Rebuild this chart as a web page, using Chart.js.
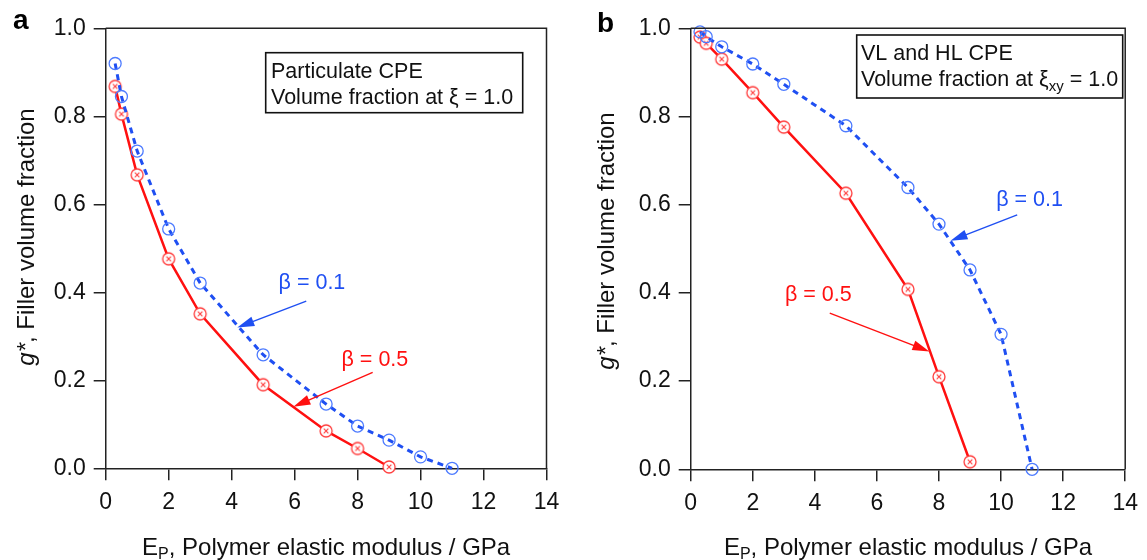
<!DOCTYPE html>
<html>
<head>
<meta charset="utf-8">
<script src="https://cdn.jsdelivr.net/npm/chart.js@4.4.1/dist/chart.umd.min.js"></script>
<style>
html, body { margin: 0; padding: 0; background: #fff; }
canvas { position: absolute; top: 0; }
#chart-a { left: 0; }
#chart-b { left: 580px; }
</style>
</head>
<body>
<canvas id="chart-a" width="580" height="560"></canvas>
<canvas id="chart-b" width="567" height="560"></canvas>
<script>
// polymer elastic modulus (GPa) at which each point was computed
const modulusBeta01 = [0.3, 0.5, 1, 2, 3, 5, 7, 8, 9, 10, 11];
const modulusBeta05 = [0.3, 0.5, 1, 2, 3, 5, 7, 8, 9];

// panel a: particulate CPE
const particulateBeta01 = [0.92, 0.845, 0.721, 0.544, 0.421, 0.258, 0.146, 0.096, 0.064, 0.026, 0.0];
const particulateBeta05 = [0.868, 0.805, 0.667, 0.476, 0.351, 0.19, 0.085, 0.045, 0.003];

// panel b: VL and HL CPE
const layeredBeta01 = [0.992, 0.981, 0.958, 0.919, 0.873, 0.779, 0.639, 0.556, 0.452, 0.306, 0.0];
const layeredBeta05 = [0.98, 0.966, 0.93, 0.854, 0.776, 0.626, 0.408, 0.21, 0.017];

const xTicks = [0, 2, 4, 6, 8, 10, 12, 14];
const yTicks = [0.0, 0.2, 0.4, 0.6, 0.8, 1.0];

const FONT = '"Liberation Sans", Arial, Helvetica, sans-serif';
const BLUE_LINE = '#1f4ff2';
const BLUE_MARK = '#4d7bff';
const RED_LINE = '#ff1010';
const RED_MARK = '#ff3a3a';
const AXIS = '#222';
const TEXT = '#111';

function toPoints(xs, ys) {
    return ys.map((y, i) => ({ x: xs[i], y: y }));
}

function crossCircle() {
    const c = document.createElement('canvas');
    c.width = 16;
    c.height = 16;
    const g = c.getContext('2d');
    g.fillStyle = '#fff';
    g.strokeStyle = RED_MARK;
    g.lineWidth = 1.3;
    g.beginPath();
    g.arc(8, 8, 6, 0, Math.PI * 2);
    g.fill();
    g.stroke();
    g.lineWidth = 1.1;
    g.beginPath();
    g.moveTo(5.7, 5.7); g.lineTo(10.3, 10.3);
    g.moveTo(10.3, 5.7); g.lineTo(5.7, 10.3);
    g.stroke();
    return c;
}
const redMarker = crossCircle();

// draw a list of text runs [{t, font, dy}] starting at x
function drawRuns(ctx, runs, x, y, align) {
    let total = 0;
    runs.forEach(r => { ctx.font = r.font; total += ctx.measureText(r.t).width; });
    let cx = align === 'center' ? x - total / 2 : x;
    ctx.textAlign = 'left';
    runs.forEach(r => {
        ctx.font = r.font;
        ctx.fillText(r.t, cx, y + (r.dy || 0));
        cx += ctx.measureText(r.t).width;
    });
}

function drawArrow(ctx, x1, y1, x2, y2, color) {
    const a = Math.atan2(y2 - y1, x2 - x1);
    const head = 17, half = 5;
    ctx.strokeStyle = color;
    ctx.fillStyle = color;
    ctx.lineWidth = 1.4;
    ctx.beginPath();
    ctx.moveTo(x1, y1);
    ctx.lineTo(x2 - head * 0.8 * Math.cos(a), y2 - head * 0.8 * Math.sin(a));
    ctx.stroke();
    ctx.beginPath();
    ctx.moveTo(x2, y2);
    ctx.lineTo(x2 - head * Math.cos(a) + half * Math.sin(a), y2 - head * Math.sin(a) - half * Math.cos(a));
    ctx.lineTo(x2 - head * Math.cos(a) - half * Math.sin(a), y2 - head * Math.sin(a) + half * Math.cos(a));
    ctx.closePath();
    ctx.fill();
}

const boxFont = '21.5px ' + FONT;
const subFont = '15px ' + FONT;
const titleFont = '24px ' + FONT;

function decorPlugin(d) {
    return {
        id: 'decor',
        afterDraw(chart) {
            const ctx = chart.ctx;
            const area = chart.chartArea;
            const xs = chart.scales.x, ys = chart.scales.y;
            ctx.save();

            // top and right frame
            ctx.strokeStyle = AXIS;
            ctx.lineWidth = 1.5;
            ctx.beginPath();
            ctx.moveTo(area.left, area.top);
            ctx.lineTo(area.right, area.top);
            ctx.lineTo(area.right, area.bottom);
            ctx.stroke();

            // panel letter
            ctx.fillStyle = '#000';
            ctx.font = 'bold 28px ' + FONT;
            ctx.textAlign = 'left';
            ctx.textBaseline = 'alphabetic';
            ctx.fillText(d.letter, d.letterX, d.letterY);

            // legend box
            ctx.lineWidth = 1.6;
            ctx.strokeStyle = '#111';
            ctx.fillStyle = '#fff';
            ctx.fillRect(d.box.x, d.box.y, d.box.w, d.box.h);
            ctx.strokeRect(d.box.x, d.box.y, d.box.w, d.box.h);
            ctx.fillStyle = TEXT;
            d.box.lines.forEach((runs, i) => drawRuns(ctx, runs, d.box.tx, d.box.baselines[i], 'left'));

            // beta labels with arrows
            d.labels.forEach(l => {
                ctx.fillStyle = l.color;
                ctx.font = '21.5px ' + FONT;
                ctx.textAlign = 'center';
                ctx.textBaseline = 'middle';
                ctx.fillText(l.text, xs.getPixelForValue(l.x), ys.getPixelForValue(l.y));
                drawArrow(ctx,
                    xs.getPixelForValue(l.arrow[0]), ys.getPixelForValue(l.arrow[1]),
                    xs.getPixelForValue(l.arrow[2]), ys.getPixelForValue(l.arrow[3]), l.color);
            });

            // x axis title with subscript
            ctx.fillStyle = TEXT;
            ctx.textBaseline = 'alphabetic';
            drawRuns(ctx, [
                { t: 'E', font: titleFont },
                { t: 'P', font: '16px ' + FONT, dy: 4 },
                { t: ', Polymer elastic modulus / GPa', font: titleFont }
            ], (area.left + area.right) / 2, 555, 'center');

            // y axis title
            ctx.translate(d.yTitleX, d.yTitleY);
            ctx.rotate(-Math.PI / 2);
            ctx.textBaseline = 'middle';
            drawRuns(ctx, [
                { t: 'g*', font: 'italic 24px ' + FONT },
                { t: ', Filler volume fraction', font: titleFont }
            ], 0, 0, 'center');

            ctx.restore();
        }
    };
}

function makeConfig(beta01, beta05, padRight, yWidth, xHeight, decor) {
    return {
        type: 'line',
        data: {
            datasets: [
                {
                    label: 'β = 0.1',
                    data: toPoints(modulusBeta01, beta01),
                    borderColor: BLUE_LINE,
                    borderWidth: 3,
                    borderDash: [6, 5],
                    pointStyle: 'circle',
                    pointRadius: 6,
                    pointBorderWidth: 1.3,
                    pointBorderColor: BLUE_MARK,
                    pointBackgroundColor: 'rgba(255,255,255,0)',
                    tension: 0,
                    clip: false
                },
                {
                    label: 'β = 0.5',
                    data: toPoints(modulusBeta05, beta05),
                    borderColor: RED_LINE,
                    borderWidth: 2.5,
                    pointStyle: redMarker,
                    pointRadius: 6,
                    tension: 0,
                    clip: false
                }
            ]
        },
        options: {
            responsive: false,
            animation: false,
            layout: { padding: { left: 0, right: padRight, top: 28.3, bottom: 0 } },
            plugins: {
                legend: { display: false },
                tooltip: { enabled: false }
            },
            scales: {
                x: {
                    type: 'linear',
                    min: 0,
                    max: 14,
                    afterBuildTicks: s => { s.ticks = xTicks.map(v => ({ value: v })); },
                    afterFit: s => { s.height = xHeight; },
                    border: { color: AXIS, width: 1.5 },
                    grid: { drawOnChartArea: false, tickLength: 12, tickColor: AXIS, lineWidth: 1.5 },
                    ticks: { color: TEXT, padding: 9, maxRotation: 0, font: { family: FONT, size: 23 } }
                },
                y: {
                    type: 'linear',
                    min: 0,
                    max: 1,
                    afterBuildTicks: s => { s.ticks = yTicks.map(v => ({ value: v })); },
                    afterFit: s => { s.width = yWidth; },
                    border: { color: AXIS, width: 1.5 },
                    grid: { drawOnChartArea: false, tickLength: 12, tickColor: AXIS, lineWidth: 1.5 },
                    ticks: { color: TEXT, padding: 8, font: { family: FONT, size: 23 }, callback: v => v.toFixed(1) }
                }
            }
        },
        plugins: [decorPlugin(decor)]
    };
}

const chartA = new Chart(document.getElementById('chart-a').getContext('2d'),
    makeConfig(particulateBeta01, particulateBeta05, 33.5, 105.7, 91.7, {
        letter: 'a', letterX: 13, letterY: 29,
        box: {
            x: 265.7, y: 52.7, w: 257, h: 60, tx: 271, baselines: [78, 104],
            lines: [
                [{ t: 'Particulate CPE', font: boxFont }],
                [{ t: 'Volume fraction at ξ = 1.0', font: boxFont }]
            ]
        },
        labels: [
            { text: 'β = 0.1', x: 6.55, y: 0.421, color: BLUE_LINE, arrow: [6.37, 0.38, 4.18, 0.32] },
            { text: 'β = 0.5', x: 8.55, y: 0.246, color: RED_LINE, arrow: [8.48, 0.218, 5.96, 0.14] }
        ],
        yTitleX: 27, yTitleY: 237
    }));

const chartB = new Chart(document.getElementById('chart-b').getContext('2d'),
    makeConfig(layeredBeta01, layeredBeta05, 16, 110.7, 90.7, {
        letter: 'b', letterX: 17, letterY: 32,
        box: {
            x: 276.7, y: 35, w: 266, h: 63, tx: 281, baselines: [60, 86],
            lines: [
                [{ t: 'VL and HL CPE', font: boxFont }],
                [
                    { t: 'Volume fraction at ξ', font: boxFont },
                    { t: 'xy', font: subFont, dy: 5 },
                    { t: ' = 1.0', font: boxFont }
                ]
            ]
        },
        labels: [
            { text: 'β = 0.1', x: 10.92, y: 0.611, color: BLUE_LINE, arrow: [10.52, 0.577, 8.37, 0.518] },
            { text: 'β = 0.5', x: 4.11, y: 0.395, color: RED_LINE, arrow: [4.48, 0.354, 7.69, 0.267] }
        ],
        yTitleX: 27, yTitleY: 241
    }));
</script>
</body>
</html>
